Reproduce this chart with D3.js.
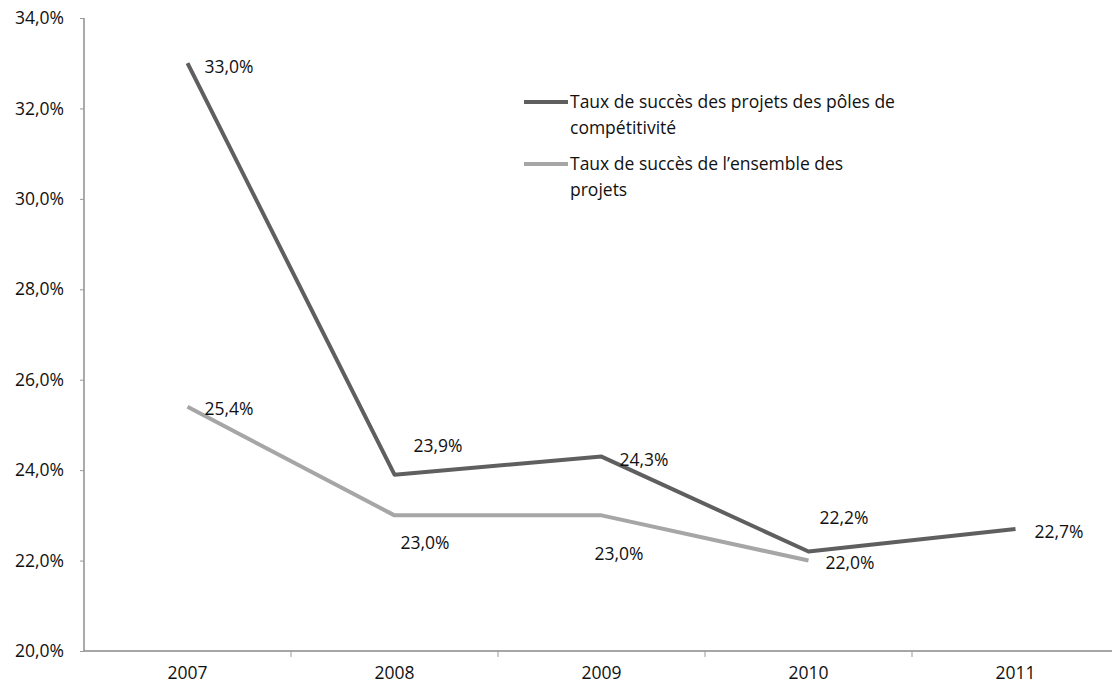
<!DOCTYPE html>
<html><head><meta charset="utf-8">
<script src="https://cdn.jsdelivr.net/npm/d3@7"></script>
<style>body{margin:0;background:#fff}svg{display:block}text{font-family:"Open Sans",sans-serif;fill:#111}</style>
</head><body><svg id="c" width="1112" height="690"></svg>
<script>
const years = ["2007","2008","2009","2010","2011"];
const polesValues = [33.0, 23.9, 24.3, 22.2, 22.7];
const ensembleValues = [25.4, 23.0, 23.0, 22.0, null];
const yTicks = [20,22,24,26,28,30,32,34];
const seriesNames = ["Taux de succès des projets des pôles de compétitivité","Taux de succès de l’ensemble des projets"];
const legendLines = [["Taux de succès des projets des pôles de","compétitivité"],["Taux de succès de l’ensemble des","projets"]];
const polesLabelOffsets = [[17,4],[19,-29],[18,3],[11,-34],[19,3]];
const ensembleLabelOffsets = [[17,2],[6,28],[-7,39],[17,2]];
const FS = 17.5;

const svg = d3.select("#c");
const fmt = v => v.toFixed(1).replace(".", ",") + "%";
const x = d3.scaleBand().domain(years).range([84, 1119]);
const y = d3.scaleLinear().domain([20, 34]).range([651, 18]);
const cx = d => x(d) + x.bandwidth()/2;

// Y axis
const ya = svg.append("g").attr("transform","translate(84,0)")
  .call(d3.axisLeft(y).tickValues(yTicks).tickSize(4).tickFormat(fmt));
ya.select(".domain").attr("stroke","#aaa").attr("stroke-width",2).attr("d","M0,18V651");
ya.selectAll(".tick line").attr("stroke","#999");
ya.selectAll(".tick text").attr("x",-20).attr("font-size",FS).attr("font-family","Open Sans").attr("fill","#111");

// X axis
const xa = svg.append("g").attr("transform","translate(0,651)")
  .call(d3.axisBottom(x).tickSize(0).tickPadding(16));
xa.select(".domain").attr("stroke","#888").attr("stroke-width",1.5).attr("d","M84,0H1112");
xa.selectAll(".tick text").attr("font-size",FS).attr("font-family","Open Sans").attr("fill","#111");
// boundary ticks
const bounds = years.map(d => x(d)).concat([x(years[years.length-1]) + x.bandwidth()]);
svg.append("g").selectAll("line").data(bounds.slice(1)).join("line")
  .attr("x1",d=>d).attr("x2",d=>d).attr("y1",651).attr("y2",657).attr("stroke","#999");

const line = d3.line().defined(d => d.v != null).x(d => cx(d.k)).y(d => y(d.v));
const polesData = years.map((k,i)=>({k, v: polesValues[i]}));
const ensData = years.map((k,i)=>({k, v: ensembleValues[i]})).filter(d=>d.v!=null);

svg.append("path").datum(ensData).attr("d", line).attr("fill","none")
  .attr("stroke","#a6a6a6").attr("stroke-width",4).attr("stroke-linejoin","round");
svg.append("path").datum(polesData).attr("d", line).attr("fill","none")
  .attr("stroke","#5f5f5f").attr("stroke-width",4).attr("stroke-linejoin","round");

svg.append("g").selectAll("text").data(polesData).join("text")
  .attr("x",(d,i)=>cx(d.k)+polesLabelOffsets[i][0]).attr("y",(d,i)=>y(d.v)+polesLabelOffsets[i][1])
  .attr("dy","0.35em").attr("font-size",FS).text(d=>fmt(d.v));
svg.append("g").selectAll("text").data(ensData).join("text")
  .attr("x",(d,i)=>cx(d.k)+ensembleLabelOffsets[i][0]).attr("y",(d,i)=>y(d.v)+ensembleLabelOffsets[i][1])
  .attr("dy","0.35em").attr("font-size",FS).text(d=>fmt(d.v));

// Legend
const legColors = ["#5f5f5f","#a6a6a6"];
const leg = svg.append("g");
legendLines.forEach((lines,i)=>{
  const ly = 102 + i*62;
  leg.append("line").attr("x1",524).attr("x2",568).attr("y1",ly).attr("y2",ly)
    .attr("stroke",legColors[i]).attr("stroke-width",4);
  const t = leg.append("text").attr("x",570).attr("y",ly).attr("font-size",FS);
  lines.forEach((s,j)=>t.append("tspan").attr("x",570).attr("dy", j===0?"0.35em":"26").text(s));
});
</script></body></html>
